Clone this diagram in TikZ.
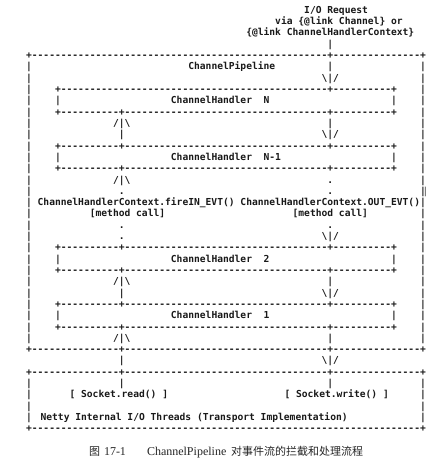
\documentclass[tikz,border=0pt]{standalone}
\usepackage{fontspec}
\setmainfont{Liberation Serif}
\setmonofont{DejaVu Sans Mono}
\newfontfamily\cjkfont{Noto Sans CJK SC}

% repeated dashes, blank cells and the backslash glyph for the ASCII rows
\ExplSyntaxOn
\cs_new:Npn \dsh #1 { \prg_replicate:nn {#1} {-} }
\ExplSyntaxOff
\newdimen\chw \chw=5.794pt
\newcommand\gp[1]{\hspace*{#1\chw}}
\newcommand\bs{\textbackslash}

% grid of character cells: column -> x, row -> baseline y
\newcommand\colx[1]{26.1+5.794*(#1)}
\newcommand\rowy[1]{58.6+11.31*(#1)}

\tikzset{
  asc/.style={anchor=base west, inner sep=0pt, outer sep=0pt,
    font=\ttfamily\bfseries\fontsize{9.624pt}{11pt}\selectfont, text=black!90},
  captext/.style={anchor=base west, inner sep=0pt, outer sep=0pt, text=black!85}
}

\begin{document}
\begin{tikzpicture}[x=1pt, y=-1pt]
\fill[white] (0,0) rectangle (443,463);
\useasboundingbox (0,0) rectangle (443,463);

% request entering the pipeline
\node[asc] (req1) at ({\colx{48}},{\rowy{-4}}) {I/O Request};
\node[asc] (req2) at ({\colx{43}},{\rowy{-3}}) {via \{@link Channel\} or};
\node[asc] (req3) at ({\colx{38}},{\rowy{-2}}) {\{@link ChannelHandlerContext\}};
\node[asc] (req4) at ({\colx{52}},{\rowy{-1}}) {|};

% ChannelPipeline frame and handler boxes
\node[asc] (r0)  at ({\colx{0}},{\rowy{0}})  {+\dsh{51}+\dsh{15}+};
\node[asc] (r1)  at ({\colx{0}},{\rowy{1}})  {|\gp{27}ChannelPipeline\gp{9}|\gp{15}|};
\node[asc] (r2)  at ({\colx{0}},{\rowy{2}})  {|\gp{50}\bs|/\gp{14}|};
\node[asc] (r3)  at ({\colx{0}},{\rowy{3}})  {|\gp4+\dsh{46}+\dsh{10}+\gp4|};
\node[asc] (r4)  at ({\colx{0}},{\rowy{4}})  {|\gp4|\gp{19}ChannelHandler\gp{2}N\gp{21}|\gp4|};
\node[asc] (r5)  at ({\colx{0}},{\rowy{5}})  {|\gp4+\dsh{10}+\dsh{35}+\dsh{10}+\gp4|};
\node[asc] (r6)  at ({\colx{0}},{\rowy{6}})  {|\gp{14}/|\bs\gp{34}|\gp{15}|};
\node[asc] (r7)  at ({\colx{0}},{\rowy{7}})  {|\gp{15}|\gp{34}\bs|/\gp{14}|};
\node[asc] (r8)  at ({\colx{0}},{\rowy{8}})  {|\gp4+\dsh{10}+\dsh{35}+\dsh{10}+\gp4|};
\node[asc] (r9)  at ({\colx{0}},{\rowy{9}})  {|\gp4|\gp{19}ChannelHandler\gp{2}N-1\gp{19}|\gp4|};
\node[asc] (r10) at ({\colx{0}},{\rowy{10}}) {|\gp4+\dsh{10}+\dsh{35}+\dsh{10}+\gp4|};
\node[asc] (r11) at ({\colx{0}},{\rowy{11}}) {|\gp{14}/|\bs\gp{34}.\gp{15}|};
\node[asc] (r12) at ({\colx{0}},{\rowy{12}}) {|\gp{15}.\gp{35}.\gp{15}|};
\node[asc, text=black!55] (r12b) at ({\colx{68.45}},{\rowy{12}}) {|};
\node[asc] (r13) at ({\colx{0}},{\rowy{13}}) {|\gp1ChannelHandlerContext.fireIN\_EVT()\gp1ChannelHandlerContext.OUT\_EVT()|};
\node[asc] (r14) at ({\colx{0}},{\rowy{14}}) {|\gp{10}[method\gp1call]\gp{22}[method\gp1call]\gp9|};
\node[asc] (r15) at ({\colx{0}},{\rowy{15}}) {|\gp{15}.\gp{35}.\gp{15}|};
\node[asc] (r16) at ({\colx{0}},{\rowy{16}}) {|\gp{15}.\gp{34}\bs|/\gp{14}|};
\node[asc] (r17) at ({\colx{0}},{\rowy{17}}) {|\gp4+\dsh{10}+\dsh{35}+\dsh{10}+\gp4|};
\node[asc] (r18) at ({\colx{0}},{\rowy{18}}) {|\gp4|\gp{19}ChannelHandler\gp{2}2\gp{21}|\gp4|};
\node[asc] (r19) at ({\colx{0}},{\rowy{19}}) {|\gp4+\dsh{10}+\dsh{35}+\dsh{10}+\gp4|};
\node[asc] (r20) at ({\colx{0}},{\rowy{20}}) {|\gp{14}/|\bs\gp{34}|\gp{15}|};
\node[asc] (r21) at ({\colx{0}},{\rowy{21}}) {|\gp{15}|\gp{34}\bs|/\gp{14}|};
\node[asc] (r22) at ({\colx{0}},{\rowy{22}}) {|\gp4+\dsh{10}+\dsh{35}+\dsh{10}+\gp4|};
\node[asc] (r23) at ({\colx{0}},{\rowy{23}}) {|\gp4|\gp{19}ChannelHandler\gp{2}1\gp{21}|\gp4|};
\node[asc] (r24) at ({\colx{0}},{\rowy{24}}) {|\gp4+\dsh{10}+\dsh{35}+\dsh{10}+\gp4|};
\node[asc] (r25) at ({\colx{0}},{\rowy{25}}) {|\gp{14}/|\bs\gp{34}|\gp{15}|};
\node[asc] (r26) at ({\colx{0}},{\rowy{26}}) {+\dsh{15}+\dsh{35}+\dsh{15}+};

% between pipeline and transport
\node[asc] (r27) at ({\colx{16}},{\rowy{27}}) {|\gp{34}\bs|/};

% transport box
\node[asc] (r28) at ({\colx{0}},{\rowy{28}}) {+\dsh{15}+\dsh{35}+\dsh{15}+};
\node[asc] (r29) at ({\colx{0}},{\rowy{29}}) {|\gp{15}|\gp{35}|\gp{15}|};
\node[asc] (r30) at ({\colx{0}},{\rowy{30}}) {|\gp{67}|};
\node[asc] (sread)  at ({\colx{7.5}},{\rowy{30}})  {[ Socket.read() ]};
\node[asc] (swrite) at ({\colx{44.6}},{\rowy{30}}) {[ Socket.write() ]};
\node[asc] (r31) at ({\colx{0}},{\rowy{31}}) {|\gp{67}|};
\node[asc] (r32) at ({\colx{0}},{\rowy{32}}) {|\gp{67}|};
\node[asc] (netty) at ({\colx{2.5}},{\rowy{32}}) {Netty Internal I/O Threads (Transport Implementation)};
\node[asc] (r33) at ({\colx{0}},{\rowy{33}}) {+\dsh{67}+};

% caption
\node[captext, font=\cjkfont\fontsize{11pt}{13pt}\selectfont] (figzh) at (89,455) {图};
\node[captext, font=\fontsize{12pt}{14pt}\selectfont] (fignum) at (104,455) {17-1};
\node[captext, font=\fontsize{12pt}{14pt}\selectfont] (capname) at (147,455) {ChannelPipeline};
\node[captext, font=\cjkfont\fontsize{11pt}{13pt}\selectfont] (capzh) at (231,455) {对事件流的拦截和处理流程};
\end{tikzpicture}
\end{document}
